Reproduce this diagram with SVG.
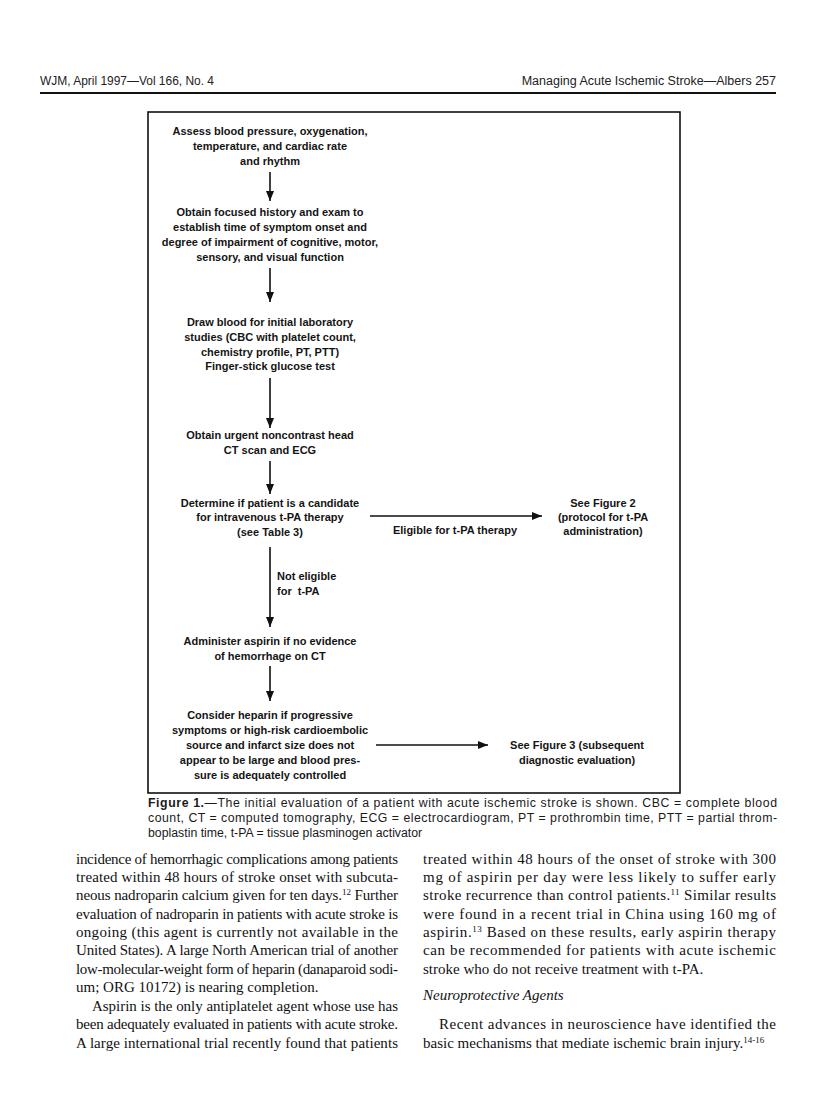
<svg xmlns="http://www.w3.org/2000/svg" width="816" height="1093" viewBox="0 0 816 1093">
<defs>
<marker id="ah" viewBox="0 0 10 8" refX="10" refY="4" markerWidth="10" markerHeight="8" markerUnits="userSpaceOnUse" orient="auto">
<path d="M0,0 L10,4 L0,8 Z" fill="#111"/>
</marker>
<style>
.n{font-family:"Liberation Sans",Arial,sans-serif;font-size:11px;font-weight:bold;fill:#141414;text-anchor:middle}
.l{font-family:"Liberation Sans",Arial,sans-serif;font-size:11px;font-weight:bold;fill:#141414}
.c{stroke:#111;stroke-width:1.6;fill:none;marker-end:url(#ah)}
.hd{font-family:"Liberation Sans",Arial,sans-serif;font-size:12.5px;fill:#222}
.cap{font-family:"Liberation Sans",Arial,sans-serif;font-size:12.3px;fill:#1a1a1a}
.b{font-family:"Liberation Serif","Times New Roman",serif;font-size:15px;fill:#111}
</style>
</defs>
<rect width="816" height="1093" fill="#fff"/>
<g id="header">
<text class="hd" x="40" y="85" textLength="174" lengthAdjust="spacingAndGlyphs">WJM, April 1997—Vol 166, No. 4</text>
<text class="hd" x="776" y="85" text-anchor="end">Managing Acute Ischemic Stroke—Albers  257</text>
<line x1="40" y1="93" x2="776" y2="93" stroke="#111" stroke-width="2.2"/>
</g>
<rect id="frame" x="148" y="112" width="532" height="681" fill="none" stroke="#111" stroke-width="1.6"/>
<g id="n1">
<text class="n" x="270" y="135">Assess blood pressure, oxygenation,</text>
<text class="n" x="270" y="150">temperature, and cardiac rate</text>
<text class="n" x="270" y="165">and rhythm</text>
</g>
<g id="n2">
<text class="n" x="270" y="216">Obtain focused history and exam to</text>
<text class="n" x="270" y="231">establish time of symptom onset and</text>
<text class="n" x="270" y="246">degree of impairment of cognitive, motor,</text>
<text class="n" x="270" y="261">sensory, and visual function</text>
</g>
<g id="n3">
<text class="n" x="270" y="326">Draw blood for initial laboratory</text>
<text class="n" x="270" y="341">studies (CBC with platelet count,</text>
<text class="n" x="270" y="356">chemistry profile, PT, PTT)</text>
<text class="n" x="270" y="370">Finger-stick glucose test</text>
</g>
<g id="n4">
<text class="n" x="270" y="439">Obtain urgent noncontrast head</text>
<text class="n" x="270" y="454">CT scan and ECG</text>
</g>
<g id="n5">
<text class="n" x="270" y="507">Determine if patient is a candidate</text>
<text class="n" x="270" y="521">for intravenous t-PA therapy</text>
<text class="n" x="270" y="536">(see Table 3)</text>
</g>
<g id="n5b">
<text class="n" x="603" y="507">See Figure 2</text>
<text class="n" x="603" y="521">(protocol for t-PA</text>
<text class="n" x="603" y="535">administration)</text>
</g>
<g id="n6">
<text class="n" x="270" y="645">Administer aspirin if no evidence</text>
<text class="n" x="270" y="660">of hemorrhage on CT</text>
</g>
<g id="n7">
<text class="n" x="270" y="719">Consider heparin if progressive</text>
<text class="n" x="270" y="734">symptoms or high-risk cardioembolic</text>
<text class="n" x="270" y="749">source and infarct size does not</text>
<text class="n" x="270" y="764">appear to be large and blood pres-</text>
<text class="n" x="270" y="779">sure is adequately controlled</text>
</g>
<g id="n7b">
<text class="n" x="577" y="749">See Figure 3 (subsequent</text>
<text class="n" x="577" y="764">diagnostic evaluation)</text>
</g>
<g id="connectors">
<line class="c" x1="270" y1="172" x2="270" y2="201"/>
<line class="c" x1="270" y1="268" x2="270" y2="302"/>
<line class="c" x1="270" y1="378" x2="270" y2="428"/>
<line class="c" x1="270" y1="461" x2="270" y2="494"/>
<line class="c" x1="370" y1="516" x2="542" y2="516"/>
<text class="n" x="455" y="534">Eligible for t-PA therapy</text>
<line class="c" x1="270" y1="547" x2="270" y2="627"/>
<text class="l" x="277" y="580">Not eligible</text>
<text class="l" x="277" y="595" xml:space="preserve">for  t-PA</text>
<line class="c" x1="270" y1="666" x2="270" y2="701"/>
<line class="c" x1="376" y1="745" x2="488" y2="745"/>
</g>
<g id="caption">
<text class="cap" x="148" y="807" textLength="629" lengthAdjust="spacing"><tspan font-weight="bold">Figure 1.</tspan>—The initial evaluation of a patient with acute ischemic stroke is shown. CBC = complete blood</text>
<text class="cap" x="148" y="822" textLength="629" lengthAdjust="spacing">count, CT = computed tomography, ECG = electrocardiogram, PT = prothrombin time, PTT = partial throm-</text>
<text class="cap" x="148" y="837">boplastin time, t-PA = tissue plasminogen activator</text>
</g>
<g id="body-left">
<text class="b" x="76" y="864" textLength="322" lengthAdjust="spacing">incidence of hemorrhagic complications among patients</text>
<text class="b" x="76" y="882" textLength="322" lengthAdjust="spacing">treated within 48 hours of stroke onset with subcuta-</text>
<text class="b" x="76" y="900" textLength="322" lengthAdjust="spacing">neous nadroparin calcium given for ten days.<tspan font-size="9" dy="-5">12</tspan><tspan dy="5"> Further</tspan></text>
<text class="b" x="76" y="919" textLength="322" lengthAdjust="spacing">evaluation of nadroparin in patients with acute stroke is</text>
<text class="b" x="76" y="937" textLength="322" lengthAdjust="spacing">ongoing (this agent is currently not available in the</text>
<text class="b" x="76" y="955" textLength="322" lengthAdjust="spacing">United States). A large North American trial of another</text>
<text class="b" x="76" y="974" textLength="322" lengthAdjust="spacing">low-molecular-weight form of heparin (danaparoid sodi-</text>
<text class="b" x="76" y="992">um; ORG 10172) is nearing completion.</text>
<text class="b" x="92" y="1011" textLength="306" lengthAdjust="spacing">Aspirin is the only antiplatelet agent whose use has</text>
<text class="b" x="76" y="1029" textLength="322" lengthAdjust="spacing">been adequately evaluated in patients with acute stroke.</text>
<text class="b" x="76" y="1048" textLength="322" lengthAdjust="spacing">A large international trial recently found that patients</text>
</g>
<g id="body-right">
<text class="b" x="423" y="864" textLength="353" lengthAdjust="spacing">treated within 48 hours of the onset of stroke with 300</text>
<text class="b" x="423" y="882" textLength="353" lengthAdjust="spacing">mg of aspirin per day were less likely to suffer early</text>
<text class="b" x="423" y="900" textLength="353" lengthAdjust="spacing">stroke recurrence than control patients.<tspan font-size="9" dy="-5">11</tspan><tspan dy="5"> Similar results</tspan></text>
<text class="b" x="423" y="919" textLength="353" lengthAdjust="spacing">were found in a recent trial in China using 160 mg of</text>
<text class="b" x="423" y="937" textLength="353" lengthAdjust="spacing">aspirin.<tspan font-size="9" dy="-5">13</tspan><tspan dy="5"> Based on these results, early aspirin therapy</tspan></text>
<text class="b" x="423" y="955" textLength="353" lengthAdjust="spacing">can be recommended for patients with acute ischemic</text>
<text class="b" x="423" y="974">stroke who do not receive treatment with t-PA.</text>
<text class="b" x="423" y="1000" font-style="italic">Neuroprotective Agents</text>
<text class="b" x="439" y="1029" textLength="337" lengthAdjust="spacing">Recent advances in neuroscience have identified the</text>
<text class="b" x="423" y="1048">basic mechanisms that mediate ischemic brain injury.<tspan font-size="9" dy="-5">14-16</tspan></text>
</g>
</svg>
